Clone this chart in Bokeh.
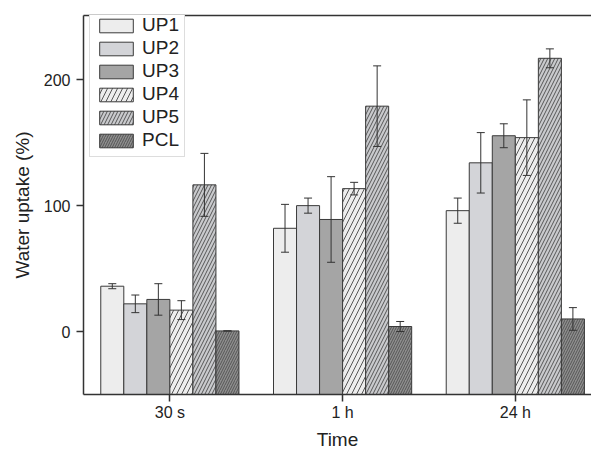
import numpy as np
from bokeh.plotting import figure
from bokeh.models import (ColumnDataSource, Whisker, TeeHead, Legend, LegendItem,
                          FixedTicker, LinearAxis, Range1d)
from bokeh.embed import file_html
from bokeh.resources import INLINE

# ---- data ----
times = ["30 s", "1 h", "24 h"]
series = ["UP1", "UP2", "UP3", "UP4", "UP5", "PCL"]
up1 = [36, 82, 96]
up1_err = [2, 19, 10]
up2 = [22, 100, 134]
up2_err = [7, 6, 24]
up3 = [25.5, 89, 155.5]
up3_err = [12.5, 34, 9.5]
up4 = [17, 113.5, 154]
up4_err = [7.5, 5, 30]
up5 = [116.5, 179, 217]
up5_err = [25, 32, 7.5]
pcl = [0.5, 4, 10]
pcl_err = [0, 4, 9]
y_ticks = [0, 100, 200]

values = [up1, up2, up3, up4, up5, pcl]
errors = [up1_err, up2_err, up3_err, up4_err, up5_err, pcl_err]

# ---- styles ----
fills = ["#ededed", "#d3d4d8", "#a5a5a5", "#ededed", "#c9cacd", "#8e8e8e"]
hatches = [" ", " ", " ", "/", "/", "/"]
hatch_scales = [10, 10, 10, 10, 7, 5]
Y0, Y1 = -50, 251

p = figure(width=591, height=452, output_backend="svg", toolbar_location=None,
           x_range=Range1d(0.5, 3.441), y_range=Range1d(Y0, Y1),
           min_border_left=83, min_border_right=0, min_border_top=15, min_border_bottom=56,
           x_axis_location=None, y_axis_location=None)
p.outline_line_color = None
p.xgrid.visible = False
p.ygrid.visible = False
p.background_fill_color = "white"
p.border_fill_color = "white"

n = len(series)
bar_w = 0.8 / n
base = np.arange(1, len(times) + 1)

items = []
for i, name in enumerate(series):
    xs = base + (i - (n - 1) / 2) * bar_w
    vals = np.array(values[i], dtype=float)
    errs = np.array(errors[i], dtype=float)
    src = ColumnDataSource(dict(x=xs, top=vals, upper=vals + errs, lower=vals - errs))
    r = p.vbar(x="x", top="top", bottom=Y0, width=bar_w, source=src,
               fill_color=fills[i], line_color="#3a3a3a", line_width=1,
               hatch_pattern=hatches[i], hatch_color="#555555", hatch_weight=1,
               hatch_scale=hatch_scales[i])
    items.append(LegendItem(label=name, renderers=[r]))
    w = Whisker(source=src, base="x", upper="upper", lower="lower",
                line_color="#333333", line_width=1, level="annotation",
                upper_head=TeeHead(size=8, line_color="#333333", line_width=1),
                lower_head=TeeHead(size=8, line_color="#333333", line_width=1))
    p.add_layout(w)

font = "Liberation Sans"

yax = LinearAxis(ticker=FixedTicker(ticks=y_ticks), axis_label="Water uptake (%)")
xax = LinearAxis(ticker=FixedTicker(ticks=list(base)), axis_label="Time",
                 major_label_overrides={int(b): t for b, t in zip(base, times)})
for ax in (yax, xax):
    ax.axis_line_width = 1.5
    ax.axis_line_color = "#333333"
    ax.major_tick_line_color = "#333333"
    ax.major_tick_line_width = 1.5
    ax.major_tick_out = 7
    ax.major_tick_in = 0
    ax.minor_tick_line_color = None
    ax.major_label_text_font = font
    ax.major_label_text_font_size = "16px"
    ax.major_label_text_color = "#222222"
    ax.axis_label_text_font = font
    ax.axis_label_text_font_size = "19px"
    ax.axis_label_text_font_style = "normal"
    ax.axis_label_text_color = "#222222"
yax.major_label_standoff = 6
yax.axis_label_standoff = 8
xax.major_label_standoff = 2
xax.axis_label_standoff = 5
p.add_layout(yax, "left")
p.add_layout(xax, "below")

top = LinearAxis(ticker=FixedTicker(ticks=[]), axis_line_width=1.5, axis_line_color="#333333",
                 major_tick_line_color=None, minor_tick_line_color=None,
                 major_label_text_font_size="0px", major_tick_out=0, major_tick_in=0,
                 major_label_standoff=0)
p.add_layout(top, "above")

legend = Legend(items=items, location=(6, 237), glyph_width=42, glyph_height=17,
                label_height=21, label_text_font=font, label_text_font_size="19px",
                label_text_color="#222222", padding=5, spacing=1, label_standoff=5,
                border_line_color="#bbbbbb", border_line_width=1,
                background_fill_color="white", background_fill_alpha=1, margin=0)
p.add_layout(legend)

open("out.html", "w").write(file_html(p, INLINE))
